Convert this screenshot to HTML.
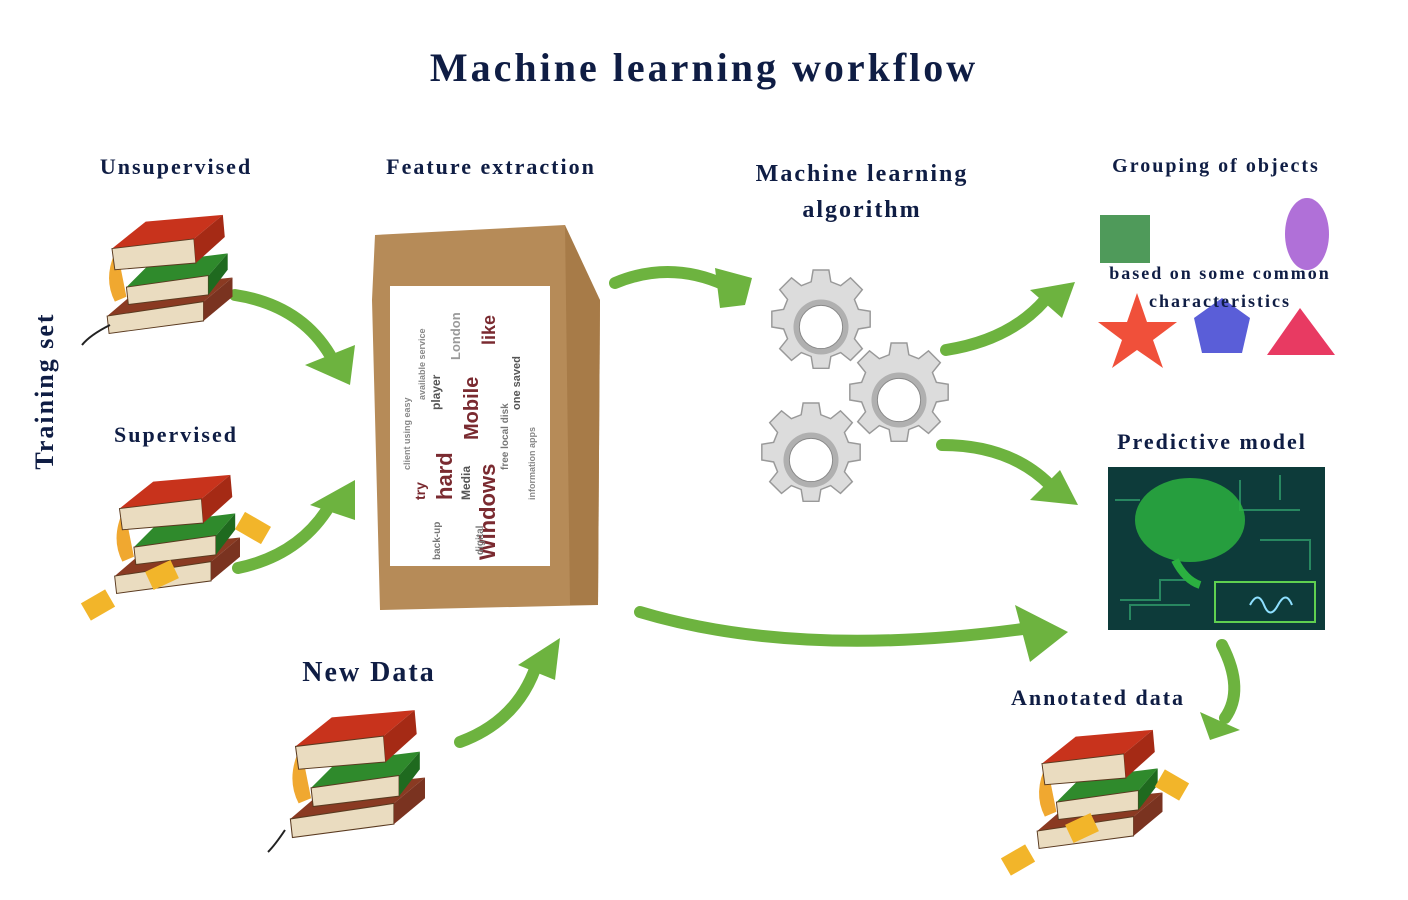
<!DOCTYPE html>
<html><head><meta charset="utf-8"><style>
html,body{margin:0;padding:0;background:#fff}
body{width:1408px;height:900px;position:relative;overflow:hidden;font-family:"Liberation Serif",serif;color:#0f1d44}
.t{position:absolute;font-weight:bold;white-space:nowrap;letter-spacing:2px;transform:translateX(-50%)}
</style></head><body>
<svg width="1408" height="900" style="position:absolute;left:0;top:0">
<defs>
<symbol id="bk" viewBox="0 0 140 140">
 <path d="M20 40 Q5 70 18 95 L30 90 Z" fill="#f0a830"/>
 <path d="M10 110 L110 95 L140 70 L45 80 Z" fill="#8a3a22"/>
 <path d="M10 110 L110 95 L110 115 L12 128 Z" fill="#eadcc0" stroke="#5a3a20"/>
 <path d="M110 95 L140 70 L140 90 L110 115 Z" fill="#7a3320"/>
 <path d="M30 80 L115 68 L135 45 L55 55 Z" fill="#2f8a2c"/>
 <path d="M30 80 L115 68 L115 88 L32 98 Z" fill="#eadcc0" stroke="#5a3a20"/>
 <path d="M115 68 L135 45 L135 62 L115 88 Z" fill="#1f6a1f"/>
 <path d="M15 40 L100 30 L130 5 L50 12 Z" fill="#c8331c"/>
 <path d="M15 40 L100 30 L102 55 L18 62 Z" fill="#eadcc0" stroke="#5a3a20"/>
 <path d="M100 30 L130 5 L132 28 L102 55 Z" fill="#a52a15"/>
</symbol>
<symbol id="gear" viewBox="-60 -60 120 120">
 <g fill="#dcdcdc" stroke="#999" stroke-width="1.5">
 <path d="M-8 -58 h16 l2 12 l10 4 l10 -8 l12 12 l-8 10 l4 10 l12 2 v16 l-12 2 l-4 10 l8 10 l-12 12 l-10 -8 l-10 4 l-2 12 h-16 l-2 -12 l-10 -4 l-10 8 l-12 -12 l8 -10 l-4 -10 l-12 -2 v-16 l12 -2 l4 -10 l-8 -10 l12 -12 l10 8 l10 -4 Z"/>
 </g>
 <circle r="28" fill="#b0b0b0"/><circle r="22" fill="#fff" stroke="#888"/>
</symbol>
</defs>
<g fill="none" stroke="#6db33f" stroke-width="12" stroke-linecap="round">
 <path d="M235 295 Q300 305 330 355"/>
 <path d="M238 568 Q300 555 330 505"/>
 <path d="M460 742 Q520 720 538 660"/>
 <path d="M615 283 Q670 260 725 285"/>
 <path d="M946 350 Q1010 340 1045 300"/>
 <path d="M942 445 Q1010 445 1050 485"/>
 <path d="M640 612 Q800 660 1030 628"/>
 <path d="M1222 645 Q1245 690 1225 718"/>
</g>
<g fill="#6db33f">
 <polygon points="305,365 355,345 350,385"/>
 <polygon points="310,505 355,480 355,520"/>
 <polygon points="518,665 560,638 555,680"/>
 <polygon points="715,268 752,278 745,305 720,308"/>
 <polygon points="1030,290 1075,282 1062,318"/>
 <polygon points="1030,500 1078,505 1060,470"/>
 <polygon points="1015,605 1068,632 1030,662"/>
 <polygon points="1200,712 1240,730 1210,740"/>
</g>
<use href="#bk" x="95" y="210" width="140" height="135"/>
<use href="#bk" x="100" y="470" width="145" height="135"/>
<use href="#bk" x="275" y="705" width="155" height="145"/>
<use href="#bk" x="1020" y="725" width="150" height="135"/>
<path d="M110 325 Q90 335 82 345" stroke="#222" stroke-width="2" fill="none"/>
<path d="M285 830 Q275 845 268 852" stroke="#222" stroke-width="2" fill="none"/>
<g fill="#f2b52a"><rect x="238" y="518" width="30" height="20" transform="rotate(30 253 528)"/><rect x="148" y="565" width="28" height="20" transform="rotate(-25 162 575)"/><rect x="84" y="595" width="28" height="20" transform="rotate(-30 98 605)"/>
<rect x="1158" y="775" width="28" height="20" transform="rotate(30 1172 785)"/><rect x="1068" y="818" width="28" height="20" transform="rotate(-25 1082 828)"/><rect x="1004" y="850" width="28" height="20" transform="rotate(-30 1018 860)"/></g>
<!-- bag -->
<path d="M375 235 L565 225 L572 260 L600 300 L598 605 L380 610 L372 300 Z" fill="#b68b58"/>
<path d="M565 225 L600 300 L598 605 L570 605 Z" fill="#a77b48"/>
<rect x="390" y="286" width="160" height="280" fill="#fff"/>
<g fill="#7a2a30" font-family="Liberation Sans,sans-serif" font-weight="bold">
<text transform="translate(495 560) rotate(-90)" font-size="22">Windows</text>
<text transform="translate(452 500) rotate(-90)" font-size="22">hard</text>
<text transform="translate(478 440) rotate(-90)" font-size="20">Mobile</text>
<text transform="translate(495 345) rotate(-90)" font-size="18">like</text>
<text transform="translate(470 500) rotate(-90)" font-size="12" fill="#555">Media</text>
<text transform="translate(425 500) rotate(-90)" font-size="14">try</text>
<text transform="translate(440 410) rotate(-90)" font-size="12" fill="#555">player</text>
<text transform="translate(520 410) rotate(-90)" font-size="11" fill="#555">one saved</text>
<text transform="translate(410 470) rotate(-90)" font-size="9" fill="#888">client using easy</text>
<text transform="translate(508 470) rotate(-90)" font-size="10" fill="#777">free local disk</text>
<text transform="translate(535 500) rotate(-90)" font-size="9" fill="#888">information apps</text>
<text transform="translate(460 360) rotate(-90)" font-size="13" fill="#999">London</text>
<text transform="translate(425 400) rotate(-90)" font-size="9" fill="#888">available service</text>
<text transform="translate(483 555) rotate(-90)" font-size="10" fill="#777">digital</text>
<text transform="translate(440 560) rotate(-90)" font-size="10" fill="#777">back-up</text>
</g>
<use href="#gear" x="762" y="268" width="118" height="118"/>
<use href="#gear" x="840" y="341" width="118" height="118"/>
<use href="#gear" x="752" y="401" width="118" height="118"/>
<!-- shapes -->
<rect x="1100" y="215" width="50" height="48" fill="#4f9a5a"/>
<ellipse cx="1307" cy="234" rx="22" ry="36" fill="#b070d8"/>
<polygon points="1137,293 1147,322 1177,322 1153,340 1163,368 1137,350 1112,368 1122,340 1098,322 1127,322" fill="#f0503a"/>
<polygon points="1222,298 1250,318 1242,353 1202,353 1194,318" fill="#5a5ed8"/>
<polygon points="1300,308 1335,355 1267,355" fill="#e83a62"/>
<!-- brain -->
<rect x="1108" y="467" width="217" height="163" fill="#0d3b3a"/>
<g stroke="#2f9a6a" stroke-width="2" fill="none" opacity=".8">
<path d="M1120 600 h40 v-20 h30"/><path d="M1240 480 v30 h60"/><path d="M1260 540 h50 v30"/><path d="M1115 500 h25"/><path d="M1130 620 v-15 h60"/><path d="M1280 500 v-25"/>
</g>
<ellipse cx="1190" cy="520" rx="55" ry="42" fill="#2bb040" opacity=".85"/>
<path d="M1175 560 q10 20 25 25" stroke="#2bb040" stroke-width="8" fill="none"/>
<rect x="1215" y="582" width="100" height="40" fill="none" stroke="#5fd050" stroke-width="2"/>
<path d="M1250 605 q8 -15 14 0 t14 0 t14 0" stroke="#8fe0ff" stroke-width="2" fill="none"/>
</svg>
<div class="t" style="left:704px;top:44px;font-size:40px;letter-spacing:3px">Machine learning workflow</div>
<div class="t" style="left:176px;top:154px;font-size:22px">Unsupervised</div>
<div class="t" style="left:491px;top:154px;font-size:22px">Feature extraction</div>
<div class="t" style="left:862px;top:156px;font-size:24px;text-align:center;line-height:36px">Machine learning<br>algorithm</div>
<div class="t" style="left:1216px;top:155px;font-size:20px">Grouping of objects</div>
<div class="t" style="left:1220px;top:259px;font-size:18px;text-align:center;line-height:28px">based on some common<br>characteristics</div>
<div class="t" style="left:176px;top:422px;font-size:22px">Supervised</div>
<div class="t" style="left:369px;top:657px;font-size:28px">New Data</div>
<div class="t" style="left:1212px;top:429px;font-size:22px">Predictive model</div>
<div class="t" style="left:1098px;top:685px;font-size:22px">Annotated data</div>
<div class="t" style="left:45px;top:376px;font-size:26px;transform:translate(-50%,0) rotate(-90deg)">Training set</div>
</body></html>
